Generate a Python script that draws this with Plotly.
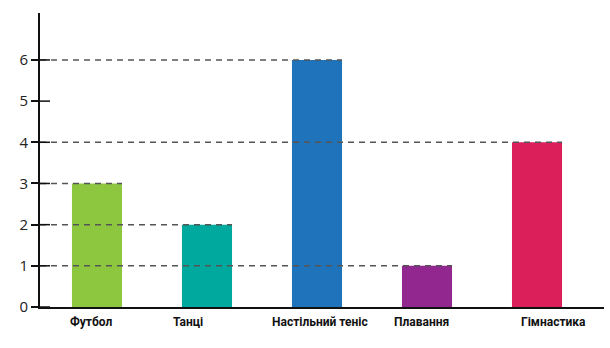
import plotly.graph_objects as go

categories = ["Футбол", "Танці", "Настільний теніс", "Плавання", "Гімнастика"]
values = [3, 2, 6, 1, 4]
colors = ["#8DC63F", "#00A99D", "#1F73BA", "#92278F", "#DA1F5B"]
label_offsets = [-0.05, 0.83, 2.03, 2.95, 4.15]
y_ticks = [0, 1, 2, 3, 4, 5, 6]

x_pos = list(range(len(categories)))
bar_w = 0.455
x_min, x_max = -0.518, 4.609
y_max = 7.14

fig = go.Figure()
fig.add_trace(go.Bar(x=x_pos, y=values, width=bar_w, marker=dict(color=colors, line=dict(width=0)),
                     hoverinfo="skip"))

shapes = []
for xi, v in zip(x_pos, values):
    shapes.append(dict(type="line", xref="x", yref="y", x0=x_min, x1=xi + bar_w / 2, y0=v, y1=v,
                       line=dict(color="#555555", width=1.5, dash="6px,5px"), layer="above"))
for t in y_ticks:
    shapes.append(dict(type="line", xref="x", yref="y", x0=x_min, x1=x_min + 10 / 110, y0=t, y1=t,
                       line=dict(color="#111111", width=1.5), layer="above"))
fig.update_layout(shapes=shapes)

annotations = []
for cat, xo in zip(categories, label_offsets):
    annotations.append(dict(x=xo, y=0, xref="x", yref="y", text="<b>" + cat + "</b>", showarrow=False,
                            yshift=-15, font=dict(family="Roboto", size=12, color="#111111"),
                            xanchor="center", yanchor="middle"))
fig.update_layout(annotations=annotations)

fig.update_layout(
    width=610, height=348,
    margin=dict(l=40, r=6, t=13, b=41),
    plot_bgcolor="white", paper_bgcolor="white",
    showlegend=False,
    xaxis=dict(range=[x_min, x_max], showticklabels=False, ticks="", showgrid=False, zeroline=False,
               showline=True, linecolor="#111111", linewidth=2, fixedrange=True),
    yaxis=dict(range=[0, y_max], tickvals=y_ticks, ticks="outside", ticklen=7, tickwidth=1.5,
               tickcolor="#111111", showgrid=False, zeroline=False, showline=True,
               linecolor="#111111", linewidth=2, tickfont=dict(family="Open Sans", size=15, color="#222222"),
               fixedrange=True),
)

fig.write_html("out.html")
